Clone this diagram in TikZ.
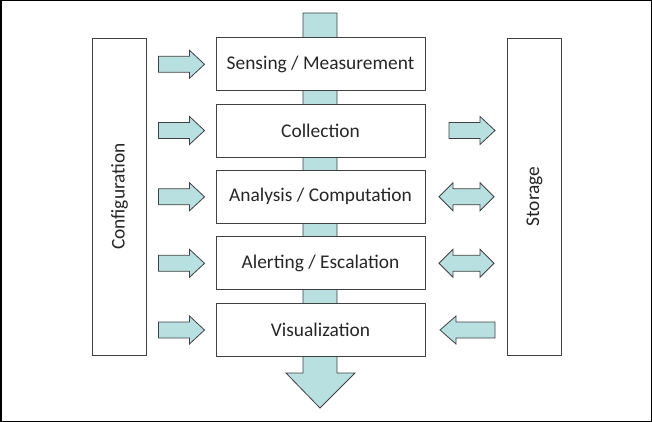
\documentclass[tikz,border=0pt]{standalone}
\usepackage{fontspec}
\setmainfont{Carlito}
\definecolor{blockfill}{RGB}{185,224,225}
\definecolor{edgegray}{RGB}{64,64,64}
\tikzset{
  lab/.style={font=\fontsize{19.4}{22}\selectfont, text=black!85},
  stage/.style={lab, draw=edgegray, fill=white, line width=0.9pt, minimum width=209pt,
    minimum height=53pt, inner sep=0pt},
  side/.style={draw=edgegray, fill=white, line width=0.9pt, minimum width=54pt,
    minimum height=317pt, inner sep=0pt},
  blk/.style={draw=edgegray, fill=blockfill, line width=0.8pt, line join=miter},
  rarr/.pic={\path[blk] (-23,-8) -- (8,-8) -- (8,-14) -- (23,0) -- (8,14) -- (8,8) -- (-23,8) -- cycle;},
  larr/.pic={\path[blk] (27.5,-8) -- (-11.5,-8) -- (-11.5,-14) -- (-27.5,0) -- (-11.5,14) -- (-11.5,8) -- (27.5,8) -- cycle;},
  darr/.pic={\path[blk] (-27.5,0) -- (-13.5,-14) -- (-13.5,-8) -- (13.5,-8) -- (13.5,-14) -- (27.5,0)
    -- (13.5,14) -- (13.5,8) -- (-13.5,8) -- (-13.5,14) -- cycle;},
}
\begin{document}
\begin{tikzpicture}[x=1pt,y=-1pt]
	\useasboundingbox (0,0) rectangle (652,422);
	\draw[line width=1.5pt] (0.75,0.75) rectangle (651.25,421.25);

	% Flux vertical
	\path[blk] (303,13) -- (337,13) -- (337,373) -- (355,373) -- (320,408) -- (286,373) -- (303,373) -- cycle;

	% Etapes
	\foreach \n/\t/\y in {sense/{Sensing / Measurement}/64.3,collect/{Collection}/130.5,
	                      analyse/{Analysis / Computation}/196.8,alert/{Alerting / Escalation}/263.3,
	                      visual/{Visualization}/330}
		\node[stage] (\n) at (320.5,\y) {\t};

	% Laterals
	\node[side] (conf) at (119.5,196.5) {};
	\node[lab, rotate=90] (conflab) at (conf) {Configuration};
	\node[side] (store) at (534.5,196.5) {};
	\node[lab, rotate=90] (storelab) at (store) {Storage};

	% Fletxes
	\foreach \n in {sense,collect,analyse,alert,visual}
		\pic at (181.5,0 |- \n) {rarr};
	\pic at (472,0 |- collect) {rarr};
	\pic at (466.5,0 |- analyse) {darr};
	\pic at (466.5,0 |- alert) {darr};
	\pic at (467.5,0 |- visual) {larr};
\end{tikzpicture}
\end{document}
